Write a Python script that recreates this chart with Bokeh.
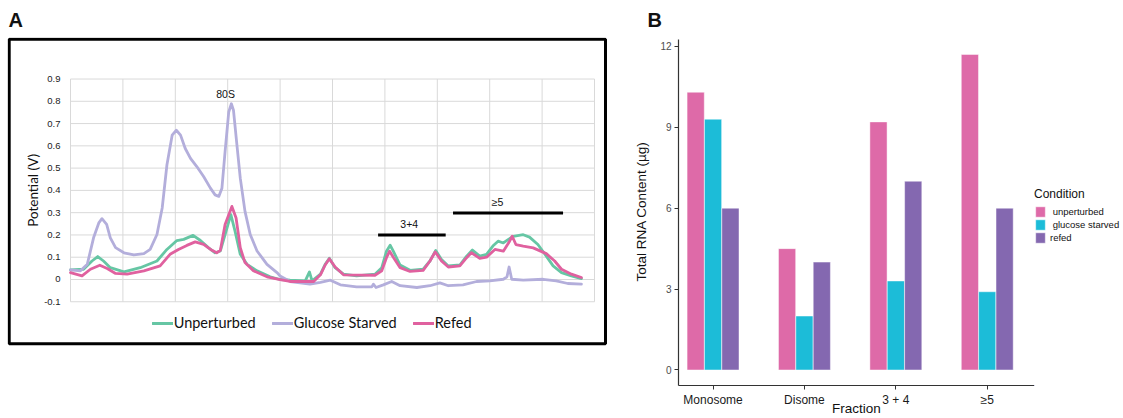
import math
from bokeh.plotting import figure
from bokeh.layouts import row
from bokeh.models import (Legend, LegendItem, Label, FixedTicker, Range1d, ColumnDataSource, BoxAnnotation)
from bokeh.core.properties import value
from bokeh.embed import file_html
from bokeh.resources import INLINE

# ---------------- Panel A data (elution profile) ----------------
unp_x = [0, 0.25, 0.41, 0.52, 0.63, 0.76, 1.02, 1.33, 1.65, 1.84,
         2.03, 2.16, 2.34, 2.48, 2.63, 2.76, 2.86, 2.95, 3.06, 3.14,
         3.24, 3.37, 3.56, 3.81, 4.0, 4.19, 4.48, 4.56, 4.61, 4.77,
         4.86, 4.94, 5.05, 5.21, 5.46, 5.81, 5.94, 6.03, 6.1, 6.16,
         6.29, 6.48, 6.73, 6.86, 6.97, 7.08, 7.21, 7.43, 7.56, 7.67,
         7.81, 7.94, 8.06, 8.16, 8.26, 8.35, 8.45, 8.64, 8.76, 8.92,
         9.08, 9.21, 9.37, 9.56, 9.75]
unp_y = [0.043, 0.046, 0.083, 0.103, 0.083, 0.053, 0.034, 0.053, 0.083, 0.135,
         0.175, 0.18, 0.198, 0.175, 0.143, 0.12, 0.128, 0.202, 0.291, 0.217,
         0.113, 0.068, 0.039, 0.012, 0.0, -0.003, -0.006, 0.034, -0.006, 0.024,
         0.068, 0.095, 0.053, 0.024, 0.016, 0.024, 0.053, 0.127, 0.154, 0.127,
         0.065, 0.041, 0.046, 0.083, 0.13, 0.09, 0.061, 0.065, 0.105, 0.132,
         0.105, 0.113, 0.15, 0.172, 0.164, 0.179, 0.194, 0.201, 0.19, 0.157,
         0.105, 0.061, 0.031, 0.016, 0.004]

starved_x = [0, 0.19, 0.32, 0.44, 0.54, 0.6, 0.69, 0.76, 0.86, 1.02,
             1.21, 1.4, 1.52, 1.65, 1.75, 1.84, 1.94, 2.02, 2.1, 2.19,
             2.29, 2.41, 2.54, 2.67, 2.76, 2.83, 2.89, 2.95, 3.02, 3.07,
             3.11, 3.17, 3.24, 3.33, 3.43, 3.56, 3.75, 3.94, 4.0, 4.19,
             4.57, 4.77, 4.96, 5.15, 5.46, 5.75, 5.78, 5.83, 5.97, 6.13,
             6.29, 6.61, 6.86, 7.05, 7.21, 7.49, 7.75, 8.0, 8.26, 8.33,
             8.37, 8.42, 8.64, 9.02, 9.27, 9.49, 9.75]
starved_y = [0.043, 0.039, 0.068, 0.187, 0.254, 0.273, 0.247, 0.187, 0.143, 0.12,
             0.11, 0.116, 0.135, 0.202, 0.321, 0.514, 0.648, 0.67, 0.648, 0.588,
             0.544, 0.507, 0.462, 0.41, 0.38, 0.373, 0.41, 0.574, 0.752, 0.789,
             0.76, 0.618, 0.455, 0.306, 0.202, 0.128, 0.068, 0.031, 0.016, -0.009,
             -0.021, -0.013, -0.003, -0.024, -0.033, -0.033, -0.021, -0.036, -0.024, -0.009,
             -0.028, -0.036, -0.028, -0.015, -0.028, -0.024, -0.009, -0.006, 0.001, 0.012,
             0.056, 0.001, -0.003, 0.001, -0.006, -0.018, -0.021]

ref_x = [0, 0.22, 0.38, 0.56, 0.7, 0.86, 1.08, 1.4, 1.71, 1.9,
         2.06, 2.22, 2.38, 2.54, 2.7, 2.79, 2.86, 2.95, 3.08, 3.16,
         3.24, 3.33, 3.49, 3.75, 4.0, 4.19, 4.64, 4.77, 4.86, 4.94,
         5.05, 5.21, 5.81, 5.94, 6.03, 6.09, 6.16, 6.29, 6.48, 6.73,
         6.86, 6.96, 7.08, 7.21, 7.43, 7.56, 7.65, 7.81, 7.94, 8.1,
         8.26, 8.38, 8.43, 8.5, 8.64, 8.83, 9.08, 9.24, 9.37, 9.56,
         9.75]
ref_y = [0.031, 0.016, 0.046, 0.064, 0.049, 0.027, 0.024, 0.039, 0.061, 0.113,
         0.135, 0.153, 0.169, 0.158, 0.131, 0.12, 0.131, 0.247, 0.328, 0.276,
         0.143, 0.076, 0.039, 0.012, -0.001, -0.009, -0.009, 0.021, 0.065, 0.093,
         0.056, 0.021, 0.019, 0.039, 0.098, 0.127, 0.1, 0.053, 0.036, 0.041,
         0.083, 0.124, 0.083, 0.056, 0.061, 0.098, 0.12, 0.095, 0.1, 0.135,
         0.127, 0.172, 0.194, 0.157, 0.15, 0.142, 0.116, 0.083, 0.046, 0.024,
         0.009]

series_names = ["Unperturbed", "Glucose Starved", "Refed"]
line_colors = ["#66C6A4", "#B3AEDB", "#E0619F"]
a_yticks = [-0.1, 0, 0.1, 0.2, 0.3, 0.4, 0.5, 0.6, 0.7, 0.8, 0.9]
a_ytick_labels = ["-0.1", "0", "0.1", "0.2", "0.3", "0.4", "0.5", "0.6", "0.7", "0.8", "0.9"]
a_xticks = [0, 1, 2, 3, 4, 5, 6, 7, 8, 9, 10]

# annotation spans (x start, x end, y) and labels
ann_labels = ["3+4", "\u22655"]
ann_x0 = [5.87, 7.3]
ann_x1 = [7.16, 9.4]
ann_y = [0.2, 0.298]

# ---------------- Panel B data ----------------
fractions = ["Monosome", "Disome", "3 + 4", "\u22655"]
conditions = [" unperturbed", " glucose starved", "refed"]
unperturbed_ug = [10.3, 4.5, 9.2, 11.7]
starved_ug = [9.3, 2.0, 3.3, 2.9]
refed_ug = [6.0, 4.0, 7.0, 6.0]
bar_colors = ["#DE6AA8", "#1CBCD8", "#8468B0"]
b_yticks = [0, 3, 6, 9, 12]

W, H = 1123, 418
TOP, BOTTOM = 37, 389          # common frame top/bottom (canvas px) for all panels


def style_title(p, text, offset):
    p.title.text = text
    p.title.align = "left"
    p.title.offset = offset
    p.title.standoff = 13
    p.title.text_font = "Liberation Sans"
    p.title.text_font_style = "bold"
    p.title.text_font_size = "20px"
    p.title.text_color = "#111111"


# ======================= Panel A =======================
A_W = 620
FA_L, FA_R = 7, 607            # frame edges (canvas px)
G_L, G_R, G_T, G_B = 70, 594, 79, 304.3   # where the x 0..10 / y -0.1..0.9 grid sits
pxu_x = (G_R - G_L) / 10.0
pxu_y = (G_B - G_T) / 1.0


def ax(px):
    return (px - G_L) / pxu_x


def ay(py):
    return 0.9 - (py - G_T) / pxu_y


pA = figure(width=A_W, height=H, output_backend="svg", toolbar_location=None,
            x_range=Range1d(ax(FA_L), ax(FA_R)), y_range=Range1d(ay(BOTTOM), ay(TOP)),
            x_axis_location=None, y_axis_location=None,
            min_border_left=FA_L, min_border_right=A_W - FA_R, min_border_top=TOP,
            min_border_bottom=H - BOTTOM)
pA.outline_line_color = None
pA.grid.visible = False
style_title(pA, "A", 1)

# grid lines from the tick lists
pA.segment(x0=[0] * len(a_yticks), x1=[10] * len(a_yticks), y0=a_yticks, y1=a_yticks,
           line_color="#D9D9D9", line_width=1)
pA.segment(x0=a_xticks, x1=a_xticks, y0=[-0.1] * len(a_xticks), y1=[0.9] * len(a_xticks),
           line_color="#D9D9D9", line_width=1)
# y tick labels
pA.text(x=[ax(G_L - 10)] * len(a_yticks), y=a_yticks, text=a_ytick_labels, text_align="right",
        text_baseline="middle", text_font=value("Liberation Sans"), text_font_size="9.5px",
        text_color="#222222")
pA.add_layout(Label(x=ax(32.5), y=0.4, text="Potential (V)", angle=math.pi / 2, text_align="center",
                    text_baseline="middle", text_font="Lato", text_font_size="13.5px",
                    text_color="#111111"))

renders = []
for xs, ys, c in zip([unp_x, starved_x, ref_x], [unp_y, starved_y, ref_y], line_colors):
    r = pA.line(xs, ys, line_color=c, line_width=2.8, line_join="round", line_cap="round")
    renders.append(r)

ann_src = ColumnDataSource(dict(x0=ann_x0, x1=ann_x1, y=ann_y))
pA.segment(x0="x0", y0="y", x1="x1", y1="y", source=ann_src, line_color="black", line_width=3)
for lab, x0, x1, y in zip(ann_labels, ann_x0, ann_x1, ann_y):
    pA.add_layout(Label(x=(x0 + x1) / 2 - 0.05 if lab == "3+4" else (x0 + x1) / 2 - 0.2, y=y + 0.05,
                        text=lab, text_align="center", text_baseline="middle",
                        text_font="Liberation Sans", text_font_size="10.5px", text_color="#111111"))
peak_idx = starved_y.index(max(starved_y))
pA.add_layout(Label(x=starved_x[peak_idx] - 0.11, y=0.831, text="80S", text_align="center",
                    text_baseline="middle", text_font="Liberation Sans", text_font_size="10.5px",
                    text_color="#111111"))

legA = Legend(items=[LegendItem(label=n, renderers=[r]) for n, r in zip(series_names, renders)],
              orientation="horizontal", location=(144.7, BOTTOM - 335.3), padding=0, margin=0,
              spacing=16, glyph_width=21, glyph_height=16, label_height=16, label_standoff=1,
              label_text_font="Lato", label_text_font_size="14.5px", label_text_color="#111111",
              border_line_color=None, background_fill_alpha=0)
pA.add_layout(legA)

# black panel frame
pA.add_layout(BoxAnnotation(left=ax(8.7), right=ax(605), top=ay(38.8), bottom=ay(346.7),
                            fill_alpha=0, fill_color=None, line_color="black", line_alpha=1.0,
                            line_width=3))

# ======================= Panel B =======================
B_W = 1034 - A_W               # bar chart canvas up to the end of the x axis
B_L = 58                       # frame left (canvas px of panel B)
Y0_PX, Y12_PX = 373.3, 46.0    # pixel rows of 0 and 12
pxu_b = (Y0_PX - Y12_PX) / 12.0
b_ylo = -(BOTTOM - Y0_PX) / pxu_b
b_yhi = (Y0_PX - TOP) / pxu_b
pB = figure(width=B_W, height=H, output_backend="svg", toolbar_location=None,
            x_range=Range1d(0.622, 4.517), y_range=Range1d(b_ylo, b_yhi),
            min_border_left=B_L, min_border_right=0, min_border_top=TOP,
            min_border_bottom=H - BOTTOM)
pB.outline_line_color = None
pB.grid.visible = False
style_title(pB, "B", -31)

offsets = [-0.19, 0.0, 0.19]
bar_w = 0.188
for vals, c, off in zip([unperturbed_ug, starved_ug, refed_ug], bar_colors, offsets):
    xs = [i + 1 + off for i in range(len(fractions))]
    pB.vbar(x=xs, top=vals, bottom=0, width=bar_w, fill_color=c, line_color="white",
            line_alpha=0.45, line_width=1)

yb = pB.yaxis[0]
yb.ticker = FixedTicker(ticks=b_yticks)
yb.bounds = (b_ylo, 12 + (Y12_PX - 39) / pxu_b)
yb.axis_line_color = "#333333"
yb.axis_line_width = 1.2
yb.major_tick_line_color = "#333333"
yb.major_tick_out = 4
yb.major_tick_in = 0
yb.minor_tick_line_color = None
yb.major_label_text_font = "Liberation Sans"
yb.major_label_text_font_size = "10px"
yb.major_label_text_color = "#4D4D4D"
yb.major_label_standoff = 3
yb.axis_label = "Total RNA Content (\u00b5g)"
yb.axis_label_text_font = "Liberation Sans"
yb.axis_label_text_font_style = "normal"
yb.axis_label_text_font_size = "13.5px"
yb.axis_label_text_color = "#111111"
yb.axis_label_standoff = 8

xb = pB.xaxis[0]
xb.ticker = FixedTicker(ticks=[1, 2, 3, 4])
xb.major_label_overrides = {i + 1: f for i, f in enumerate(fractions)}
xb.axis_line_color = "#333333"
xb.axis_line_width = 1.2
xb.major_tick_line_color = "#333333"
xb.major_tick_out = 4
xb.major_tick_in = 0
xb.minor_tick_line_color = None
xb.major_label_text_font = "Liberation Sans"
xb.major_label_text_font_size = "12px"
xb.major_label_text_color = "#1A1A1A"
xb.major_label_standoff = 3
xb.axis_label = "Fraction"
xb.axis_label_text_font = "Liberation Sans"
xb.axis_label_text_font_style = "normal"
xb.axis_label_text_font_size = "13.5px"
xb.axis_label_text_color = "#111111"
xb.axis_label_standoff = -9

# ======================= Legend strip for panel B =======================
L_W = W - 1034
pL = figure(width=L_W, height=H, output_backend="svg", toolbar_location=None,
            x_range=Range1d(100, 101), y_range=Range1d(100, 101),
            x_axis_location=None, y_axis_location=None,
            min_border_left=0, min_border_right=0, min_border_top=TOP,
            min_border_bottom=H - BOTTOM)
pL.outline_line_color = None
pL.grid.visible = False
swatches = []
for vals, c, off in zip([unperturbed_ug, starved_ug, refed_ug], bar_colors, offsets):
    xs = [i + 1 + off for i in range(len(fractions))]   # far outside this strip's ranges: legend proxies
    swatches.append(pL.vbar(x=xs, top=vals, bottom=0, width=bar_w, fill_color=c,
                            line_color="white", line_alpha=0.45, line_width=1))
legB = Legend(items=[LegendItem(label=n, renderers=[r]) for n, r in zip(conditions, swatches)],
              title="Condition", title_text_font="Liberation Sans", title_text_font_style="normal",
              title_text_font_size="12px", title_text_color="#111111", title_standoff=4,
              location=(0, BOTTOM - 248), padding=0, margin=0, spacing=0,
              glyph_width=12, glyph_height=13, label_height=13, label_standoff=4,
              label_text_font="Liberation Sans", label_text_font_size="9.5px",
              label_text_color="#111111", border_line_color=None, background_fill_alpha=0)
pL.add_layout(legB)

layout = row(pA, pB, pL)
open("out.html", "w").write(file_html(layout, INLINE))
